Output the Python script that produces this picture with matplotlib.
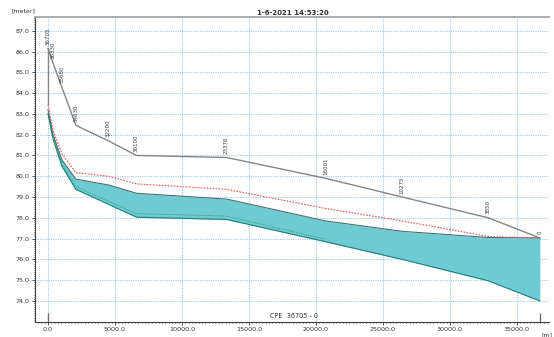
import matplotlib
matplotlib.use("Agg")
import matplotlib.pyplot as plt
from matplotlib.ticker import MultipleLocator, FormatStrFormatter

# ---- data ----
chainage_labels = ["36705", "36330", "35680", "34630", "32200", "30100",
                   "23376", "16001", "10275", "3850", "0"]
distance = [0, 375, 1025, 2075, 4505, 6605, 13329, 20704, 26430, 32855, 36705]
bank_level = [86.15, 85.45, 84.3, 82.45, 81.7, 81.0, 80.9, 79.9, 79.0, 78.0, 77.03]
bank_foot = 83.45
upper_level = [83.2, 82.0, 80.8, 79.86, 79.58, 79.18, 78.9, 77.85, 77.35, 77.05, 77.03]
lower_level = [83.0, 81.8, 80.5, 79.37, 78.65, 78.03, 77.92, 76.85, 76.0, 74.97, 74.0]
red_level = [83.45, 82.2, 81.1, 80.17, 80.0, 79.63, 79.37, 78.45, 77.85, 77.1, 77.03]
green_level = [83.05, 81.9, 80.6, 79.5, 78.8, 78.2, 78.08, 76.97]

W, H = 554, 337
fig = plt.figure(figsize=(W / 100, H / 100), dpi=100)
ax = fig.add_axes([35 / W, 1 - 321.5 / H, (549 - 35) / W, (321.5 - 17) / H])

ax.set_xlim(-970, 37390)
ax.set_ylim(73.01, 87.66)

grid_kw = dict(color="#9cc8f0", linestyle=(0, (1, 1)), linewidth=0.8, zorder=0)
ax.grid(True, which="major", **grid_kw)

ax.fill_between(distance, lower_level, upper_level, color="#6ecbd4", zorder=2, linewidth=0)
ax.plot(distance, upper_level, color="#4f6f70", linewidth=0.8, zorder=3)
ax.plot(distance, lower_level, color="#1c8080", linewidth=0.8, zorder=3)
ax.plot(distance[:len(green_level)], green_level, color="#2a9a5a",
        linestyle=(0, (1.5, 1.5)), linewidth=0.6, zorder=3)
ax.plot(distance, red_level, color="#e85555", linestyle=(0, (1.5, 1.2)),
        linewidth=0.8, zorder=3)
ax.plot(distance, bank_level, color="#858585", linewidth=1.0, zorder=4)
ax.vlines(distance[0], bank_foot, bank_level[0], color="#858585", linewidth=1.0, zorder=4)

for d, b, lab in zip(distance, bank_level, chainage_labels):
    ax.annotate(lab, (d, b), xytext=(0, 2.5), textcoords="offset points",
                rotation=90, ha="center", va="bottom", fontsize=4, color="#404040",
                zorder=5)

# start / end markers at the bottom
ax.vlines([distance[0], distance[-1]], 73.01, 73.4, color="#707070", linewidth=1.0,
          zorder=4)

ax.xaxis.set_major_locator(MultipleLocator(5000))
ax.xaxis.set_minor_locator(MultipleLocator(250))
ax.yaxis.set_major_locator(MultipleLocator(1.0))
ax.yaxis.set_minor_locator(MultipleLocator(0.1))
ax.xaxis.set_major_formatter(FormatStrFormatter("%.1f"))
ax.yaxis.set_major_formatter(FormatStrFormatter("%.1f"))
ax.tick_params(which="both", labelsize=4.6, colors="#333333", direction="out",
               width=0.6, pad=2)
ax.tick_params(which="major", length=2)
ax.tick_params(which="minor", length=1)
ax.set_yticks([74, 75, 76, 77, 78, 79, 80, 81, 82, 83, 84, 85, 86, 87])

for side in ("left", "bottom"):
    ax.spines[side].set_color("#404040")
    ax.spines[side].set_linewidth(0.8)
ax.spines["top"].set_color("#a0a0a0")
ax.spines["top"].set_linewidth(1.2)
ax.spines["right"].set_visible(False)

fig.text(293 / W, 1 - 13 / H, "1-6-2021 14:53:20", ha="center", va="center",
         fontsize=5, fontweight="bold", color="#333333")
fig.text(12 / W, 1 - 11 / H, "[meter]", ha="left", va="center", fontsize=4.5,
         color="#333333")
fig.text(294 / W, 1 - 316 / H, "CPE  36705 - 0", ha="center", va="center",
         fontsize=4.7, color="#333333")
fig.text(542 / W, 1 - 335 / H, "[m]", ha="left", va="center", fontsize=4.5,
         color="#333333")

fig.savefig("out.png", dpi=100, facecolor="white")
